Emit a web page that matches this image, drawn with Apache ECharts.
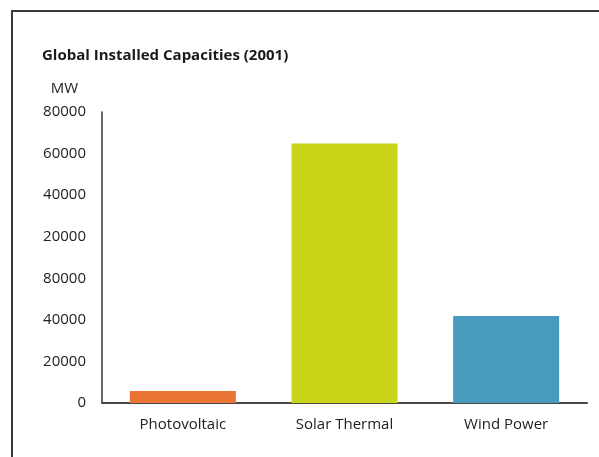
<!DOCTYPE html>
<html>
<head>
<meta charset="utf-8">
<script src="https://cdn.jsdelivr.net/npm/echarts@6/dist/echarts.min.js"></script>
<style>
  html, body { margin: 0; padding: 0; background: #fff; }
  #frame {
    position: absolute; left: 11px; top: 10px; width: 600px; height: 460px;
    border-left: 2px solid #3a3a3a; border-top: 2px solid #3a3a3a;
  }
  #myBar { position: absolute; left: 0; top: 0; width: 599px; height: 457px; }
</style>
</head>
<body>
<div id="frame"></div>
<div id="myBar"></div>
<script>
// 数据
const categories = ["Photovoltaic", "Solar Thermal", "Wind Power"];
const capacities = [5800, 124800, 41900]; // 按图中位置读取
const barColors = ["#ea7434", "#c9d418", "#489bbc"];
const tickLabels = ["0", "20000", "40000", "80000", "20000", "40000", "60000", "80000"];

const textFont = "'Open Sans', 'Noto Sans', sans-serif";

let myBar = echarts.init(document.getElementById("myBar"));
let option = {
  backgroundColor: "transparent",
  animation: false,
  title: {
    text: "Global Installed Capacities (2001)",
    left: 37,
    top: 43,
    textStyle: { fontFamily: textFont, fontSize: 15, fontWeight: "bold", color: "#1a1a1a" }
  },
  grid: {
    left: 102,
    right: 12,
    top: 112,
    bottom: 54
  },
  xAxis: {
    type: "category",
    data: categories,
    axisLine: { lineStyle: { color: "#4a4a4a", width: 2 } },
    axisTick: { show: false },
    axisLabel: {
      fontFamily: textFont,
      fontSize: 15,
      color: "#222",
      margin: 14
    }
  },
  yAxis: {
    type: "value",
    min: 0,
    max: 140000,
    interval: 20000,
    name: "MW",
    nameLocation: "end",
    nameGap: 16,
    nameTextStyle: { fontFamily: textFont, fontSize: 15, color: "#222", align: "right", padding: [0, 24, 0, 0] },
    axisLine: { show: true, lineStyle: { color: "#333", width: 1.5 } },
    axisTick: { show: false },
    splitLine: { show: false },
    axisLabel: {
      fontFamily: textFont,
      fontSize: 15,
      color: "#222",
      margin: 16,
      formatter: function (val) {
        return tickLabels[Math.round(val / 20000)];
      }
    }
  },
  series: [
    {
      type: "bar",
      barWidth: 106,
      data: capacities.map(function (v, i) {
        return { value: v, itemStyle: { color: barColors[i] } };
      })
    }
  ]
};
myBar.setOption(option);
</script>
</body>
</html>
